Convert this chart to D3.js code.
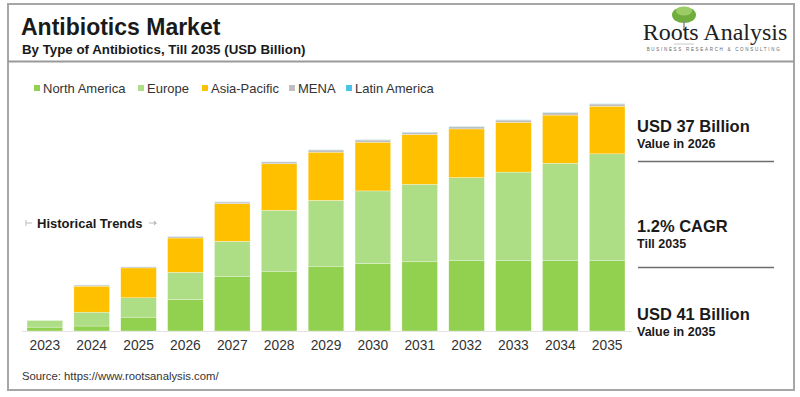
<!DOCTYPE html>
<html>
<head>
<meta charset="utf-8">
<script src="https://cdn.jsdelivr.net/npm/d3@7"></script>
<style>
  body { margin: 0; background: #fff; }
  text { font-family: "Liberation Sans", Arial, sans-serif; }
</style>
</head>
<body>
<div id="chart"></div>
<script>
var svgWidth = 800;
var svgHeight = 397;

// values, USD billion
var years = ["2023", "2024", "2025", "2026", "2027", "2028", "2029", "2030", "2031", "2032", "2033", "2034", "2035"];
var northAmerica = [0.7, 0.9, 2.5, 5.7, 9.8, 10.8, 11.7, 12.2, 12.5, 12.7, 12.7, 12.7, 12.7];
var europe       = [1.2, 2.5, 3.5, 4.9, 6.4, 11.0, 11.9, 13.1, 14.0, 15.0, 16.0, 17.6, 19.3];
var asiaPacific  = [0.0, 4.7, 5.4, 6.2, 6.8, 8.4, 8.7, 8.8, 9.0, 8.8, 9.0, 8.7, 8.6];
var mena         = [0.0, 0.2, 0.2, 0.25, 0.3, 0.35, 0.4, 0.4, 0.4, 0.4, 0.4, 0.45, 0.4];
var latinAmerica = [0.0, 0.02, 0.02, 0.03, 0.03, 0.04, 0.04, 0.04, 0.04, 0.04, 0.04, 0.04, 0.04];

var seriesNames = ["North America", "Europe", "Asia-Pacific", "MENA", "Latin America"];
var seriesColors = ["#92d050", "#addd85", "#ffc000", "#bfbfbf", "#4bc3e6"];

var rows = years.map(function(y, i) {
    return {
        year: y,
        "North America": northAmerica[i],
        "Europe": europe[i],
        "Asia-Pacific": asiaPacific[i],
        "MENA": mena[i],
        "Latin America": latinAmerica[i]
    };
});

var svg = d3.select("#chart")
    .append("svg")
    .attr("width", svgWidth)
    .attr("height", svgHeight);

// frame
svg.append("rect")
    .attr("x", 8).attr("y", 4)
    .attr("width", 786).attr("height", 386)
    .attr("fill", "none")
    .attr("stroke", "#a6a6a6")
    .attr("stroke-width", 2);

svg.append("line")
    .attr("x1", 8).attr("x2", 794)
    .attr("y1", 61.5).attr("y2", 61.5)
    .attr("stroke", "#9a9a9a")
    .attr("stroke-width", 2);

// titles
svg.append("text")
    .attr("x", 21).attr("y", 35)
    .attr("font-size", 23).attr("font-weight", "bold")
    .attr("fill", "#1a1a1a")
    .text("Antibiotics Market");

svg.append("text")
    .attr("x", 22).attr("y", 54)
    .attr("font-size", 13.3).attr("font-weight", "bold")
    .attr("fill", "#1a1a1a")
    .text("By Type of Antibiotics, Till 2035 (USD Billion)");

// logo
var logo = svg.append("g");
logo.append("ellipse")
    .attr("cx", 684).attr("cy", 15).attr("rx", 12).attr("ry", 8)
    .attr("fill", "#6fae3c");
logo.append("ellipse")
    .attr("cx", 684).attr("cy", 11).attr("rx", 8).attr("ry", 4.5)
    .attr("fill", "#9ccc65");
logo.append("line")
    .attr("x1", 684).attr("x2", 684).attr("y1", 20).attr("y2", 31)
    .attr("stroke", "#8d8d8d").attr("stroke-width", 1.5);
logo.append("line")
    .attr("x1", 674).attr("x2", 694).attr("y1", 44).attr("y2", 44)
    .attr("stroke", "#c8c8c8").attr("stroke-width", 1);
logo.append("text")
    .attr("x", 715).attr("y", 40)
    .attr("text-anchor", "middle")
    .attr("font-size", 24)
    .attr("fill", "#222")
    .style("font-family", "'Liberation Serif', 'DejaVu Serif', serif")
    .text("Roots Analysis");
logo.append("text")
    .attr("x", 714).attr("y", 51)
    .attr("text-anchor", "middle")
    .attr("font-size", 4.5)
    .attr("letter-spacing", 1.7)
    .attr("fill", "#666")
    .text("BUSINESS RESEARCH & CONSULTING");

// legend
var legendX = [34, 138, 202, 289, 346];
var legend = svg.append("g");
seriesNames.forEach(function(name, i) {
    legend.append("rect")
        .attr("x", legendX[i]).attr("y", 85)
        .attr("width", 6).attr("height", 6)
        .attr("fill", seriesColors[i]);
    legend.append("text")
        .attr("x", legendX[i] + 9).attr("y", 93)
        .attr("font-size", 13)
        .attr("fill", "#333")
        .text(name);
});

// bars
var baseY = 331;
var x = d3.scaleBand()
    .domain(years)
    .range([21.4, 630.6])
    .paddingInner(0.24)
    .paddingOuter(0.12);

var y = d3.scaleLinear()
    .domain([0, 41])
    .range([baseY, baseY - 227]);

var stack = d3.stack().keys(seriesNames);
var layers = stack(rows);

svg.append("line")
    .attr("x1", 22).attr("x2", 632)
    .attr("y1", baseY + 0.5).attr("y2", baseY + 0.5)
    .attr("stroke", "#e3e3e3");

var layerGroups = svg.selectAll("g.layer")
    .data(layers)
    .enter()
    .append("g")
    .attr("class", "layer")
    .attr("fill", (d, i) => seriesColors[i]);

layerGroups.selectAll("rect")
    .data(d => d)
    .enter()
    .append("rect")
    .attr("x", d => x(d.data.year))
    .attr("width", x.bandwidth())
    .attr("y", d => y(d[1]))
    .attr("height", d => Math.max(0, y(d[0]) - y(d[1])))
    .attr("stroke", "#ffffff")
    .attr("stroke-opacity", 0.6)
    .attr("stroke-width", 0.5);

var xAxis = svg.append("g")
    .attr("transform", `translate(0, ${baseY})`)
    .call(d3.axisBottom(x).tickSize(0).tickPadding(9));
xAxis.select(".domain").remove();
xAxis.selectAll("text")
    .attr("font-size", 13.8)
    .attr("fill", "#333")
    .style("font-family", "'Liberation Sans', Arial, sans-serif");

// historical trends note
var ht = svg.append("g");
ht.append("line").attr("x1", 26).attr("x2", 26).attr("y1", 220).attr("y2", 226).attr("stroke", "#bbb");
ht.append("line").attr("x1", 26).attr("x2", 32).attr("y1", 223).attr("y2", 223).attr("stroke", "#bbb");
ht.append("line").attr("x1", 149).attr("x2", 154).attr("y1", 223).attr("y2", 223).attr("stroke", "#bbb");
ht.append("path").attr("d", "M154,220.5 L157,223 L154,225.5 Z").attr("fill", "#bbb");
ht.append("text")
    .attr("x", 37).attr("y", 228)
    .attr("font-size", 13).attr("font-weight", "bold")
    .attr("fill", "#1a1a1a")
    .text("Historical Trends");

// right side highlights
var notes = [
    { big: "USD 37 Billion", small: "Value in 2026", y: 132 },
    { big: "1.2% CAGR", small: "Till 2035", y: 232 },
    { big: "USD 41 Billion", small: "Value in 2035", y: 320 }
];
notes.forEach(function(n) {
    svg.append("text")
        .attr("x", 637).attr("y", n.y)
        .attr("font-size", 16.5).attr("font-weight", "bold")
        .attr("fill", "#1a1a1a")
        .text(n.big);
    svg.append("text")
        .attr("x", 637).attr("y", n.y + 16)
        .attr("font-size", 12.5).attr("font-weight", "bold")
        .attr("fill", "#1a1a1a")
        .text(n.small);
});
[161.5, 267.5].forEach(function(ly) {
    svg.append("line")
        .attr("x1", 638).attr("x2", 774)
        .attr("y1", ly).attr("y2", ly)
        .attr("stroke", "#6e6e6e")
        .attr("stroke-width", 1.5);
});

// source
svg.append("text")
    .attr("x", 22).attr("y", 380)
    .attr("font-size", 11.3)
    .attr("fill", "#333")
    .text("Source: https://www.rootsanalysis.com/");
</script>
</body>
</html>
